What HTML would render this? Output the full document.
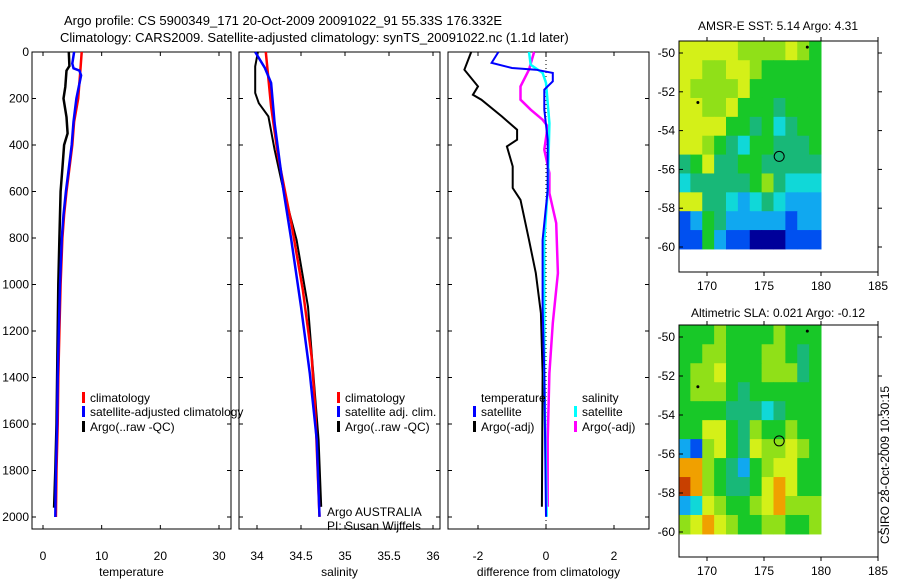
<!DOCTYPE html>
<html><head><meta charset="utf-8"><style>
body{margin:0;background:#fff}
svg{display:block;font-family:"Liberation Sans",sans-serif;font-size:12px}
</style></head><body>
<svg id="c" width="900" height="580" viewBox="0 0 900 580">
<text x="64" y="25" font-size="13">Argo profile: CS 5900349_171 20-Oct-2009 20091022_91 55.33S 176.332E</text>
<text x="60" y="42" font-size="13">Climatology: CARS2009. Satellite-adjusted climatology: synTS_20091022.nc (1.1d later)</text>
<text x="778" y="30" text-anchor="middle">AMSR-E SST: 5.14 Argo: 4.31</text>
<text x="778" y="317" text-anchor="middle">Altimetric SLA: 0.021 Argo: -0.12</text>
<text x="0" y="0" transform="translate(889,465) rotate(-90)" text-anchor="middle">CSIRO 28-Oct-2009 10:30:15</text>
</svg>
<script>
// ---- data ----
const depthTicks=[0,200,400,600,800,1000,1200,1400,1600,1800,2000];
const tempTicks=[0,10,20,30];
const salTicks=[34,34.5,35,35.5,36];
const salTickLabels=['34','34.5','35','35.5','36'];
const diffTicks=[-2,0,2];
const lonTicks=[170,175,180,185];
const latTicks=[-50,-52,-54,-56,-58,-60];

const tClimD=[0,100,200,300,400,500,600,700,800,1000,1200,1400,1600,1800,2000];
const tClimV=[6.6,6.3,6.0,5.3,5.0,4.5,4.0,3.6,3.3,3.0,2.8,2.6,2.5,2.3,2.2];
const tSatD=[0,50,70,80,100,200,300,400,500,600,700,800,1000,1200,1400,1600,1800,2000];
const tSatV=[5.3,5.0,5.2,6.2,6.5,5.7,5.2,4.9,4.4,3.9,3.5,3.2,2.9,2.7,2.5,2.4,2.2,2.1];
const tArgoD=[0,60,80,150,200,280,350,400,500,600,700,800,1000,1200,1400,1600,1800,1960];
const tArgoV=[4.4,4.5,4.0,3.8,3.5,4.0,4.2,3.6,3.3,3.0,2.9,2.8,2.6,2.5,2.4,2.3,2.1,1.9];

const sClimD=[0,234,449,736,1023,1310,1525,1999];
const sClimV=[34.1,34.16,34.24,34.39,34.52,34.62,34.66,34.71];
const sSatD=[0,69,133,306,593,808,1095,1382,1669,1999];
const sSatV=[33.98,34.09,34.16,34.2,34.3,34.39,34.5,34.6,34.68,34.71];
const sArgoD=[0,62,176,220,277,420,593,808,1095,1382,1669,1956];
const sArgoV=[34.01,33.98,33.98,34.02,34.13,34.2,34.3,34.45,34.58,34.64,34.7,34.73];

const dTArgoD=[0,76,148,184,205,277,334,377,406,492,585,636,808,951,1123,1382,1956];
const dTArgoV=[-2.2,-2.4,-2.0,-2.15,-1.9,-1.3,-0.85,-0.85,-1.15,-0.98,-0.98,-0.75,-0.5,-0.3,-0.15,-0.1,-0.12];
const dTSatD=[0,47,69,76,90,126,162,248,377,593,808,1095,1382,1999];
const dTSatV=[-1.4,-1.6,-1.0,-0.3,0.2,0.2,-0.05,-0.05,0.05,0.05,-0.1,-0.1,-0.05,0.0];
const dSSatD=[0,55,90,133,306,593,808,1382,1999];
const dSSatV=[-0.5,-0.45,-0.1,0.0,0.1,0.05,-0.05,-0.05,0.02];
const dSArgoD=[0,76,148,205,248,291,320,420,521,607,736,951,1166,1382,1669,1956];
const dSArgoV=[-0.35,-0.5,-0.75,-0.75,-0.45,-0.1,0.05,-0.05,0.1,0.1,0.3,0.35,0.2,0.1,0.05,0.05];

const sstGrid=["777776666765","776677655555","766667555555","776675554555","777755453455","776543554445","457445544444","344444564333","774432343222","125422222122","115211000111"];
const slaGrid=["555655556555","556655566545","566755566645","566654555555","555544434555","557754655655","216754766765","886542567755","986544578755","237655678666","678765566556"];
const palette=['#00009a','#0050f0','#10a8f0','#10d8d8','#18b878','#18c828','#90e018','#d4f018','#f0a000','#c84000'];
const argoLon=176.332, argoLat=-55.33;
const islandLon=[169.2,178.8], islandLat=[-52.55,-49.7];

// ---- drawing ----
const svg=document.getElementById('c');
const NS='http://www.w3.org/2000/svg';
function el(t,a,p){const e=document.createElementNS(NS,t);for(const k in a)e.setAttribute(k,a[k]);(p||svg).appendChild(e);return e;}
function lin(d0,d1,r0,r1){return v=>r0+(v-d0)*(r1-r0)/(d1-d0);}
const yD=lin(0,2000,52,517);

function panel(name,x0,x1,xs,ticks,labels,xlabel,leftLabels){
  const g=el('g',{});
  
  
  const r=el('rect',{x:x0,y:52,width:x1-x0,height:477,fill:'none',stroke:'#000'},g);
  
  depthTicks.forEach(d=>{const y=yD(d);
    el('line',{x1:x0,x2:x0+4,y1:y,y2:y,stroke:'#000'},g);el('line',{x1:x1,x2:x1-4,y1:y,y2:y,stroke:'#000'},g);
    if(leftLabels){const t=el('text',{x:x0-3,y:y+4,'text-anchor':'end'},g);t.textContent=d;
      }
  });
  ticks.forEach((v,i)=>{const x=xs(v);
    el('line',{x1:x,x2:x,y1:529,y2:525,stroke:'#000'},g);el('line',{x1:x,x2:x,y1:52,y2:56,stroke:'#000'},g);
    const t=el('text',{x:x,y:560,'text-anchor':'middle'},g);t.textContent=labels[i];
    });
  const t=el('text',{x:(x0+x1)/2,y:576,'text-anchor':'middle'},g);t.textContent=xlabel;
  
  return g;
}
function line(g,xs,D,V,col,w,name){
  const p=el('polyline',{points:D.map((d,i)=>xs(V[i]).toFixed(1)+','+yD(d).toFixed(1)).join(' '),fill:'none',stroke:col,'stroke-width':w},g);
  
}
function legend(g,x,y,col,txt,name){
  if(col)el('rect',{x:x,y:y-10,width:3,height:11,fill:col},g);
  const t=el('text',{x:x+8,y:y},g);t.textContent=txt;
  
}

const xT=lin(0,30,43,219);
const g1=panel('temperature-panel',32,231,xT,tempTicks,tempTicks.map(String),'temperature',true);
line(g1,xT,tArgoD,tArgoV,'#000',2.5,'argo-temperature-line');
line(g1,xT,tClimD,tClimV,'#f00',2.5,'climatology-temperature-line');
line(g1,xT,tSatD,tSatV,'#0000ff',2.5,'satellite-temperature-line');
legend(g1,82,402,'#f00','climatology','legend-climatology');
legend(g1,82,416,'#00f','satellite-adjusted climatology','legend-satellite');
legend(g1,82,431,'#000','Argo(..raw -QC)','legend-argo');

const xS=lin(34,36,257,433);
const g2=panel('salinity-panel',239,440,xS,salTicks,salTickLabels,'salinity',false);
line(g2,xS,sArgoD,sArgoV,'#000',2,'argo-salinity-line');
line(g2,xS,sClimD,sClimV,'#f00',2.5,'climatology-salinity-line');
line(g2,xS,sSatD,sSatV,'#00f',2.5,'satellite-salinity-line');
legend(g2,337,402,'#f00','climatology','legend-climatology-sal');
legend(g2,337,416,'#00f','satellite adj. clim.','legend-satellite-sal');
legend(g2,337,431,'#000','Argo(..raw -QC)','legend-argo-sal');
legend(g2,319,516,null,'Argo AUSTRALIA','argo-australia-label');
legend(g2,319,530,null,'PI: Susan Wijffels','pi-label');

const xDf=lin(-2,2,478,614);
const g3=panel('difference-panel',448,649,xDf,diffTicks,diffTicks.map(String),'difference from climatology',false);
el('line',{x1:xDf(0),x2:xDf(0),y1:52,y2:529,stroke:'#000','stroke-dasharray':'1,3'},g3);
line(g3,xDf,dTArgoD,dTArgoV,'#000',2,'argo-temp-diff-line');
line(g3,xDf,dSArgoD,dSArgoV,'#f0f',2.5,'argo-sal-diff-line');
line(g3,xDf,dSSatD,dSSatV,'#0ff',2.5,'satellite-sal-diff-line');
line(g3,xDf,dTSatD,dTSatV,'#00f',2,'satellite-temp-diff-line');
legend(g3,473,402,null,'temperature','legend-temperature-header');
legend(g3,473,416,'#00f','satellite','legend-temp-satellite');
legend(g3,473,431,'#000','Argo(-adj)','legend-temp-argo');
legend(g3,574,402,null,'salinity','legend-salinity-header');
legend(g3,574,416,'#0ff','satellite','legend-sal-satellite');
legend(g3,574,431,'#f0f','Argo(-adj)','legend-sal-argo');

function map(name,top,bot,lat50y,lat60y,grid){
  const g=el('g',{});
  
  const xL=lin(170,185,707,878), yL=lin(-50,-60,lat50y,lat60y);
  const lon0=167.5,lon1=180,la0=-49.4,la1=-60.1;
  const rows=grid.length, cols=grid[0].length;
  for(let r=0;r<rows;r++)for(let c=0;c<cols;c++){
    const a=lon0+(lon1-lon0)*c/cols,b=lon0+(lon1-lon0)*(c+1)/cols;
    const u=la0+(la1-la0)*r/rows,v=la0+(la1-la0)*(r+1)/rows;
    const cell=el('rect',{x:xL(a),y:Math.max(top,yL(u)),width:xL(b)-xL(a)+0.5,height:yL(v)-Math.max(top,yL(u))+0.5,fill:palette[+grid[r][c]]},g);
    
  }
  islandLon.forEach((lo,i)=>el('circle',{cx:xL(lo),cy:yL(islandLat[i]),r:1.5,fill:'#000'},g));
  const fr=el('rect',{x:679,y:top,width:199,height:bot-top,fill:'none',stroke:'#000'},g);
  
  const mk=el('circle',{cx:xL(argoLon),cy:yL(argoLat),r:5,fill:'none',stroke:'#000'},g);
  
  latTicks.forEach(l=>{const y=yL(l);
    el('line',{x1:679,x2:683,y1:y,y2:y,stroke:'#000'},g);el('line',{x1:878,x2:882,y1:y,y2:y,stroke:'#000'},g);
    const t=el('text',{x:675,y:y+4,'text-anchor':'end'},g);t.textContent=l;
    });
  lonTicks.forEach(l=>{const x=xL(l);
    el('line',{x1:x,x2:x,y1:bot,y2:bot+4,stroke:'#000'},g);el('line',{x1:x,x2:x,y1:top,y2:top-4,stroke:'#000'},g);
    const t=el('text',{x:x,y:bot+18,'text-anchor':'middle'},g);t.textContent=l;
    });
}
map('sst-map',41,272,53,247,sstGrid);
map('sla-map',325,557,337,532,slaGrid);
</script>
</body></html>
